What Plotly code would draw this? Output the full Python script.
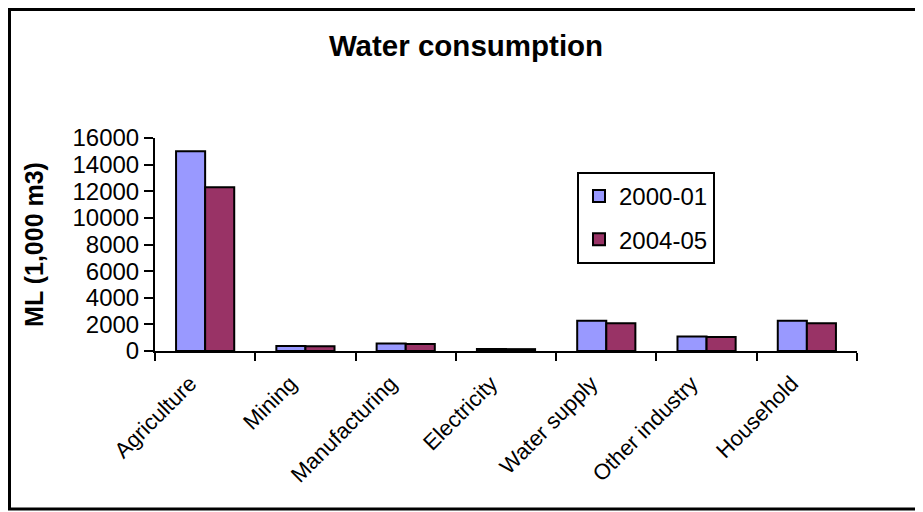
import plotly.graph_objects as go

categories = ["Agriculture", "Mining", "Manufacturing", "Electricity", "Water supply", "Other industry", "Household"]
series_2000 = [15000, 380, 560, 150, 2280, 1080, 2280]
series_2004 = [12300, 360, 530, 140, 2080, 1060, 2080]
y_ticks = [0, 2000, 4000, 6000, 8000, 10000, 12000, 14000, 16000]
y_tick_labels = [str(v) for v in y_ticks]

# page has an 8px body margin; figure coordinates are page coordinates minus 8
OFF = 8
W, H = 923 - OFF, 512 - OFF
L, T = 155 - OFF, 138 - OFF
R = W - (857 - OFF)
B = H - (351 - OFF)
pw, ph = W - L - R, H - T - B

def px(x):
    return (x - OFF - L) / pw

def py(y):
    return (H - B - (y - OFF)) / ph

fig = go.Figure()
fig.add_bar(x=categories, y=series_2000, name="2000-01", legendgroup="a",
            marker=dict(color="#9999FF", line=dict(color="black", width=2)))
fig.add_bar(x=categories, y=series_2004, name="2004-05", legendgroup="b",
            marker=dict(color="#993366", line=dict(color="black", width=2)))

fig.update_layout(
    width=W, height=H,
    margin=dict(l=L, r=R, t=T, b=B, autoexpand=False),
    paper_bgcolor="white",
    plot_bgcolor="rgba(0,0,0,0)",
    font=dict(family="Liberation Sans, Arial", color="black"),
    title=dict(text="<b>Water consumption</b>", x=(466 - OFF) / W, xanchor="center",
               y=1 - (46 - OFF) / H, yanchor="middle", font=dict(size=29.5)),
    barmode="group", bargap=0.42, bargroupgap=0,
    showlegend=True,
    legend=dict(x=px(577), y=py(172), xanchor="left", yanchor="top",
                bgcolor="white", bordercolor="black", borderwidth=2,
                font=dict(size=24), tracegroupgap=9),
    xaxis=dict(showline=True, linecolor="black", linewidth=2, automargin=False,
               ticks="outside", tickson="boundaries", ticklen=8, tickwidth=2,
               tickcolor="black", tickangle=-45, tickfont=dict(size=22),
               ticklabelshift=-15, ticklabelstandoff=9,
               showgrid=False),
    yaxis=dict(range=[0, 16000], tickvals=y_ticks, ticktext=y_tick_labels,
               showline=True, linecolor="black", automargin=False,
               linewidth=2, ticks="outside", ticklen=9, tickwidth=2, tickcolor="black",
               tickfont=dict(size=24), showgrid=False, zeroline=False,
               title=dict(text="<b>ML (1,000 m3)</b>", font=dict(size=25), standoff=22)),
    shapes=[
        dict(type="rect", xref="paper", yref="paper", layer="below",
             x0=px(9.5), x1=px(940), y0=py(509), y1=py(9.5),
             fillcolor="white", line=dict(color="black", width=3)),
    ],
)

fig.write_html("out.html")
